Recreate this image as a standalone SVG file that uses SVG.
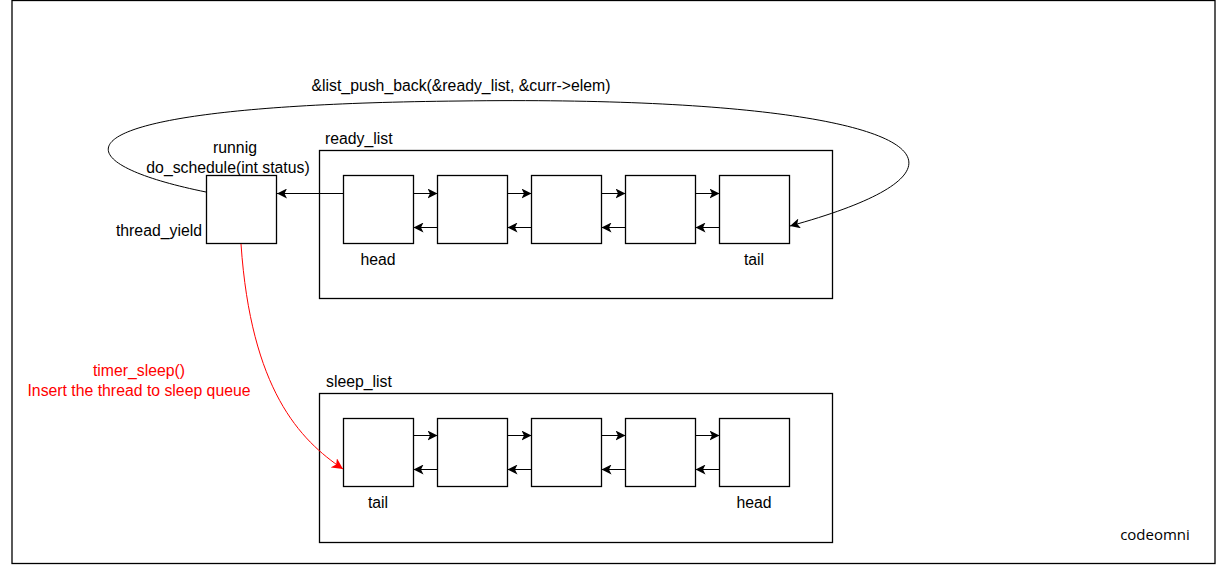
<svg xmlns="http://www.w3.org/2000/svg" width="1218" height="566" viewBox="0 0 1218 566">
<style>
  .box { fill: #ffffff; stroke: #000000; stroke-width: 1.3; }
  .frame { fill: #ffffff; stroke: #000000; stroke-width: 1.3; }
  .edge { fill: none; stroke: #000000; stroke-width: 1; }
  .red { fill: none; stroke: #ff0000; stroke-width: 1; }
  text { font-family: "Liberation Sans", Arial, sans-serif; font-size: 15.8px; fill: #000000; }
  .lbl-red { fill: #ff0000; }
  .brand { font-family: "Open Sans", "Noto Sans", sans-serif; font-size: 15px; }
</style>
<defs>
  <marker id="arr" viewBox="0 0 10 10" refX="10" refY="5" markerWidth="10" markerHeight="10" markerUnits="userSpaceOnUse" orient="auto">
    <path d="M0,0 L10,5 L0,10 L2.5,5 Z" fill="#000000"/>
  </marker>
  <marker id="arrRed" viewBox="0 0 10 10" refX="10" refY="5" markerWidth="11" markerHeight="11" markerUnits="userSpaceOnUse" orient="auto">
    <path d="M0,0 L10,5 L0,10 L2.5,5 Z" fill="#ff0000"/>
  </marker>
</defs>
<rect x="0" y="0" width="1218" height="566" fill="#ffffff"/>
<rect x="12" y="0.5" width="1203" height="563" fill="none" stroke="#000000" stroke-width="1.3"/>

<g id="ready_list">
  <rect class="frame" x="319.5" y="150.5" width="513" height="148"/>
  <text x="325" y="143.5">ready_list</text>
</g>
<g id="sleep_list">
  <rect class="frame" x="319.5" y="393.5" width="513" height="149"/>
  <text x="326" y="386.5">sleep_list</text>
</g>

<g id="running">
  <rect class="box" x="206.5" y="175.5" width="70" height="68"/>
  <text x="235" y="152.5" text-anchor="middle">runnig</text>
  <text x="228" y="172.5" text-anchor="middle">do_schedule(int status)</text>
  <text x="202" y="235.5" text-anchor="end">thread_yield</text>
</g>

<g id="r1"><rect class="box" x="343.5" y="175.5" width="70" height="68"/><text x="378" y="264.5" text-anchor="middle">head</text></g>
<g id="r2"><rect class="box" x="437.5" y="175.5" width="70" height="68"/></g>
<g id="r3"><rect class="box" x="531.5" y="175.5" width="70" height="68"/></g>
<g id="r4"><rect class="box" x="625.5" y="175.5" width="70" height="68"/></g>
<g id="r5"><rect class="box" x="719.5" y="175.5" width="70" height="68"/><text x="754" y="264.5" text-anchor="middle">tail</text></g>

<g id="s1"><rect class="box" x="343.5" y="418.5" width="70" height="68"/><text x="378" y="507.5" text-anchor="middle">tail</text></g>
<g id="s2"><rect class="box" x="437.5" y="418.5" width="70" height="68"/></g>
<g id="s3"><rect class="box" x="531.5" y="418.5" width="70" height="68"/></g>
<g id="s4"><rect class="box" x="625.5" y="418.5" width="70" height="68"/></g>
<g id="s5"><rect class="box" x="719.5" y="418.5" width="70" height="68"/><text x="754" y="507.5" text-anchor="middle">head</text></g>

<g id="labels">
  <text x="461" y="90.5" text-anchor="middle">&amp;list_push_back(&amp;ready_list, &amp;curr-&gt;elem)</text>
  <text class="lbl-red" x="139" y="375.5" text-anchor="middle">timer_sleep()</text>
  <text class="lbl-red" x="139" y="395.5" text-anchor="middle">Insert the thread to sleep queue</text>
  <text class="brand" x="1155" y="540" text-anchor="middle">codeomni</text>
</g>

<g id="connectors">
  <path class="edge" d="M343.5,193.5 L277,193.5" marker-end="url(#arr)"/>
  <path class="edge" d="M413.5,193.5 L437.5,193.5" marker-end="url(#arr)"/>
  <path class="edge" d="M507.5,193.5 L531.5,193.5" marker-end="url(#arr)"/>
  <path class="edge" d="M601.5,193.5 L625.5,193.5" marker-end="url(#arr)"/>
  <path class="edge" d="M695.5,193.5 L719.5,193.5" marker-end="url(#arr)"/>
  <path class="edge" d="M437.5,227.5 L413.5,227.5" marker-end="url(#arr)"/>
  <path class="edge" d="M531.5,227.5 L507.5,227.5" marker-end="url(#arr)"/>
  <path class="edge" d="M625.5,227.5 L601.5,227.5" marker-end="url(#arr)"/>
  <path class="edge" d="M719.5,227.5 L695.5,227.5" marker-end="url(#arr)"/>

  <path class="edge" d="M413.5,435.5 L437.5,435.5" marker-end="url(#arr)"/>
  <path class="edge" d="M507.5,435.5 L531.5,435.5" marker-end="url(#arr)"/>
  <path class="edge" d="M601.5,435.5 L625.5,435.5" marker-end="url(#arr)"/>
  <path class="edge" d="M695.5,435.5 L719.5,435.5" marker-end="url(#arr)"/>
  <path class="edge" d="M437.5,469.5 L413.5,469.5" marker-end="url(#arr)"/>
  <path class="edge" d="M531.5,469.5 L507.5,469.5" marker-end="url(#arr)"/>
  <path class="edge" d="M625.5,469.5 L601.5,469.5" marker-end="url(#arr)"/>
  <path class="edge" d="M719.5,469.5 L695.5,469.5" marker-end="url(#arr)"/>

  <path class="edge" d="M206,192 C48,160 48,105 460,101 C900,95 1030,160 790,226" marker-end="url(#arr)"/>
  <path class="red" d="M241,244 C251,390 300,440 343,469" marker-end="url(#arrRed)"/>
</g>
</svg>
